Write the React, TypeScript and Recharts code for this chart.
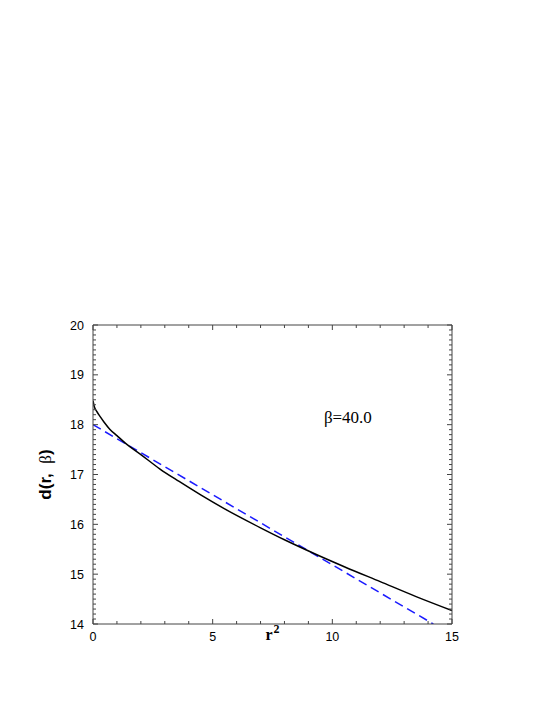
import React from 'react';
import { LineChart, Line, XAxis, YAxis, ReferenceDot, Label } from 'recharts';

// Black curve: d(r, beta) vs r^2
const rSquared = [0, 0.05, 0.15, 0.3, 0.45, 0.7, 1.0, 1.35, 2.0, 2.8, 3.6, 4.5, 5.5, 7.0, 8.0, 9.4, 10.5, 12.0, 13.5, 15.0];
const dValues = [18.48, 18.37, 18.27, 18.16, 18.06, 17.91, 17.78, 17.63, 17.4, 17.11, 16.86, 16.59, 16.31, 15.93, 15.69, 15.38, 15.15, 14.85, 14.55, 14.27];

// Blue dashed linear fit
const fitRSquared = [0, 14.22];
const fitValues = [18.0, 14.0];

// Axis ticks
const xMajorTicks = [0, 5, 10, 15];
const yMajorTicks = [14, 15, 16, 17, 18, 19, 20];
const xTicks: number[] = [];
for (let i = 0; i <= 15; i++) xTicks.push(i);
const yTicks: number[] = [];
for (let i = 140; i <= 200; i++) yTicks.push(i / 10);

const annotation = 'β=40.0';

const curveData = rSquared.map((x, i) => ({ x, d: dValues[i] }));
const fitData = fitRSquared.map((x, i) => ({ x, d: fitValues[i] }));

const FRAME = '#444';
const SANS = '"Liberation Sans", Arial, sans-serif';
const SERIF = '"Liberation Serif", "Times New Roman", serif';

const isMajorY = (v: number) => yMajorTicks.some((m) => Math.abs(m - v) < 1e-6);
const isMajorX = (v: number) => xMajorTicks.some((m) => Math.abs(m - v) < 1e-6);

const LeftTick = (props: any) => {
  const { x, y, payload } = props;
  const major = isMajorY(payload.value);
  return (
    <g>
      <line x1={x} x2={x + (major ? 5 : 3)} y1={y} y2={y} stroke={FRAME} strokeWidth={1} />
      {major && (
        <text x={x - 9} y={y} dy="0.36em" textAnchor="end" fontFamily={SANS} fontSize={12.5} fill="#000">
          {Math.round(payload.value)}
        </text>
      )}
    </g>
  );
};

const RightTick = (props: any) => {
  const { x, y, payload } = props;
  const major = isMajorY(payload.value);
  return <line x1={x} x2={x - (major ? 5 : 3)} y1={y} y2={y} stroke={FRAME} strokeWidth={1} />;
};

const BottomTick = (props: any) => {
  const { x, y, payload } = props;
  const major = isMajorX(payload.value);
  return (
    <g>
      <line x1={x} x2={x} y1={y} y2={y - (major ? 5 : 3)} stroke={FRAME} strokeWidth={1} />
      {major && (
        <text x={x} y={y + 17} textAnchor="middle" fontFamily={SANS} fontSize={12.5} fill="#000">
          {payload.value}
        </text>
      )}
    </g>
  );
};

const TopTick = (props: any) => {
  const { x, y, payload } = props;
  const major = isMajorX(payload.value);
  return <line x1={x} x2={x} y1={y} y2={y + (major ? 5 : 3)} stroke={FRAME} strokeWidth={1} />;
};

const YLabel = (props: any) => {
  const vb = props.viewBox;
  const cx = vb.x + 12.5;
  const cy = vb.y + vb.height / 2;
  return (
    <text
      x={cx}
      y={cy}
      transform={`rotate(-90 ${cx} ${cy})`}
      textAnchor="middle"
      dy="0.35em"
      fontFamily={SANS}
      fontSize={17}
      fontWeight="bold"
      fill="#000"
    >
      d(r,{'\u00a0\u00a0'}
      <tspan fontWeight="normal" fontFamily={SERIF}>β</tspan>)
    </text>
  );
};

const XLabel = (props: any) => {
  const vb = props.viewBox;
  const cx = vb.x + vb.width / 2;
  const cy = vb.y + 16;
  return (
    <text x={cx} y={cy} textAnchor="middle" fontFamily={SERIF} fontSize={16} fontWeight="bold" fill="#000">
      r
      <tspan dx={1} dy={-7} fontSize={12}>2</tspan>
    </text>
  );
};

const Annotation = (props: any) => {
  const vb = props.viewBox;
  return (
    <text x={vb.x} y={vb.y} dy="0.35em" textAnchor="middle" fontFamily={SERIF} fontSize={17} fill="#000">
      {annotation}
    </text>
  );
};

export default function App() {
  return (
    <LineChart
      width={529}
      height={680}
      margin={{ top: 300, right: 75, bottom: 34, left: 25 }}
    >
      <XAxis
        xAxisId="bottom"
        type="number"
        dataKey="x"
        domain={[0, 15]}
        ticks={xTicks}
        interval={0}
        tickSize={0}
        tickMargin={0}
        tick={<BottomTick />}
        tickLine={false}
        axisLine={{ stroke: FRAME, strokeWidth: 1 }}
        height={30}
        allowDataOverflow
      >
        <Label content={<XLabel />} />
      </XAxis>
      <XAxis
        xAxisId="top"
        orientation="top"
        type="number"
        dataKey="x"
        domain={[0, 15]}
        ticks={xTicks}
        interval={0}
        tickSize={0}
        tickMargin={0}
        tick={<TopTick />}
        tickLine={false}
        axisLine={{ stroke: FRAME, strokeWidth: 1 }}
        height={17}
        allowDataOverflow
      />
      <YAxis
        yAxisId="left"
        type="number"
        domain={[14, 20]}
        ticks={yTicks}
        interval={0}
        tickSize={0}
        tickMargin={0}
        tick={<LeftTick />}
        tickLine={false}
        axisLine={{ stroke: FRAME, strokeWidth: 1 }}
        width={60}
        allowDataOverflow
      >
        <Label content={<YLabel />} />
      </YAxis>
      <YAxis
        yAxisId="right"
        orientation="right"
        type="number"
        domain={[14, 20]}
        ticks={yTicks}
        interval={0}
        tickSize={0}
        tickMargin={0}
        tick={<RightTick />}
        tickLine={false}
        axisLine={{ stroke: FRAME, strokeWidth: 1 }}
        width={10}
        allowDataOverflow
      />
      <Line
        xAxisId="bottom"
        yAxisId="left"
        data={fitData}
        dataKey="d"
        type="linear"
        stroke="#1a1aff"
        strokeWidth={1.5}
        strokeDasharray="9 5"
        dot={false}
        isAnimationActive={false}
      />
      <Line
        xAxisId="bottom"
        yAxisId="left"
        data={curveData}
        dataKey="d"
        type="monotone"
        stroke="#000"
        strokeWidth={1.5}
        dot={false}
        isAnimationActive={false}
      />
      <ReferenceDot
        xAxisId="bottom"
        yAxisId="left"
        x={10.65}
        y={18.16}
        r={0}
        stroke="none"
        fill="none"
        label={<Annotation />}
      />
    </LineChart>
  );
}
